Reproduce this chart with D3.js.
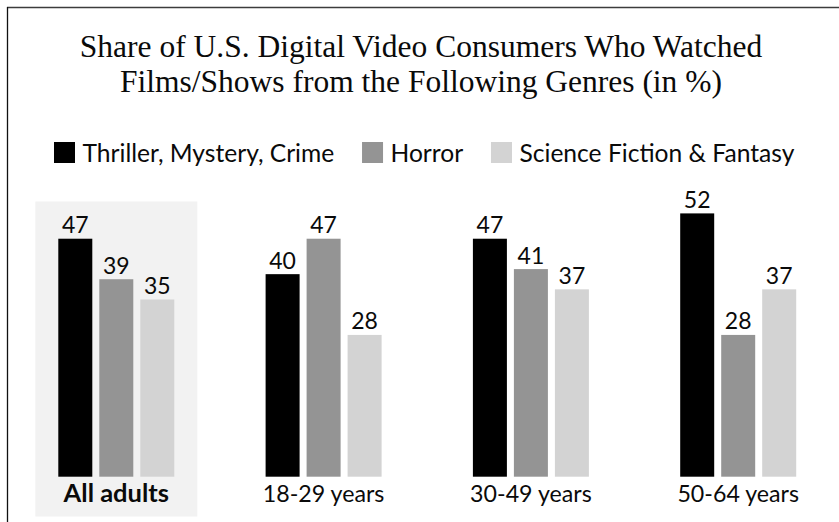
<!DOCTYPE html>
<html><head><meta charset="utf-8">
<script src="https://cdn.jsdelivr.net/npm/d3@7"></script>
<style>body{margin:0;background:#fff}</style>
</head><body>
<svg id="chart" width="839" height="522"></svg>
<script>
const categories = ["All adults", "18-29 years", "30-49 years", "50-64 years"];
const seriesNames = ["Thriller, Mystery, Crime", "Horror", "Science Fiction & Fantasy"];
const thriller = [47, 40, 47, 52];
const horror = [39, 47, 41, 28];
const scifi = [35, 28, 37, 37];
const titleLines = ["Share of U.S. Digital Video Consumers Who Watched", "Films/Shows from the Following Genres (in %)"];
const colors = ["#000000", "#949494", "#d3d3d3"];

const seriesValues = [thriller, horror, scifi];
const data = categories.map((c, i) => ({cat: c, values: seriesValues.map((s, j) => ({name: seriesNames[j], v: s[i], j}))}));

const svg = d3.select("#chart");
const W = 839, H = 522;
const sans = "Lato, 'Open Sans', sans-serif";

// frame
svg.append("line").attr("x1", 7).attr("x2", W).attr("y1", 7.5).attr("y2", 7.5).attr("stroke", "#3c3c3c").attr("stroke-width", 1.6);
svg.append("line").attr("x1", 7.5).attr("x2", 7.5).attr("y1", 7).attr("y2", H).attr("stroke", "#111").attr("stroke-width", 1.3);

// title
svg.append("text").attr("x", 421).attr("y", 56.5).attr("text-anchor", "middle")
  .attr("font-family", "'Liberation Serif', serif").attr("font-size", 31.5).attr("fill", "#0a0a0a")
  .selectAll("tspan").data(titleLines).join("tspan")
  .attr("x", 421).attr("dy", (d, i) => i === 0 ? 0 : 35).text(d => d);

// legend
const legend = svg.append("g");
let lx = 54;
seriesNames.forEach((n, i) => {
  legend.append("rect").attr("x", lx).attr("y", 142).attr("width", 21).attr("height", 21).attr("fill", colors[i]);
  const t = legend.append("text").attr("x", lx + 28.5).attr("y", 162.3)
    .attr("font-family", sans).attr("font-size", 24.6).attr("fill", "#0a0a0a").text(n);
  lx = lx + 28.5 + t.node().getComputedTextLength() + 27.8;
});

// scales
const x = d3.scalePoint().domain(categories).range([116.3, 738.2]);
const xi = d3.scaleBand().domain(d3.range(3)).range([-58, 58]).paddingInner(7 / 41).paddingOuter(0);
const y = d3.scaleLinear().domain([0, 52]).range([476.7, 213.4]);

// highlight box for All adults
svg.append("rect").attr("x", x(categories[0]) - 81).attr("y", 201.5)
  .attr("width", 162).attr("height", 315).attr("fill", "#f2f2f2");

const g = svg.append("g").selectAll("g").data(data).join("g")
  .attr("transform", d => `translate(${x(d.cat)},0)`);

g.selectAll("rect").data(d => d.values).join("rect")
  .attr("x", d => xi(d.j)).attr("width", xi.bandwidth())
  .attr("y", d => y(d.v)).attr("height", d => y(0) - y(d.v))
  .attr("fill", d => colors[d.j]);

g.selectAll("text.val").data(d => d.values).join("text").attr("class", "val")
  .attr("x", d => xi(d.j) + xi.bandwidth() / 2).attr("y", d => y(d.v) - 5.5)
  .attr("text-anchor", "middle").attr("font-family", sans).attr("font-size", 23).attr("fill", "#0a0a0a")
  .text(d => d.v);

g.append("text").attr("x", 0).attr("y", 501.7).attr("text-anchor", "middle")
  .attr("font-family", sans).attr("font-size", (d, i) => i === 0 ? 25.5 : 23.2)
  .attr("font-weight", (d, i) => i === 0 ? "bold" : "normal").attr("fill", "#0a0a0a")
  .text(d => d.cat);
</script></body></html>
